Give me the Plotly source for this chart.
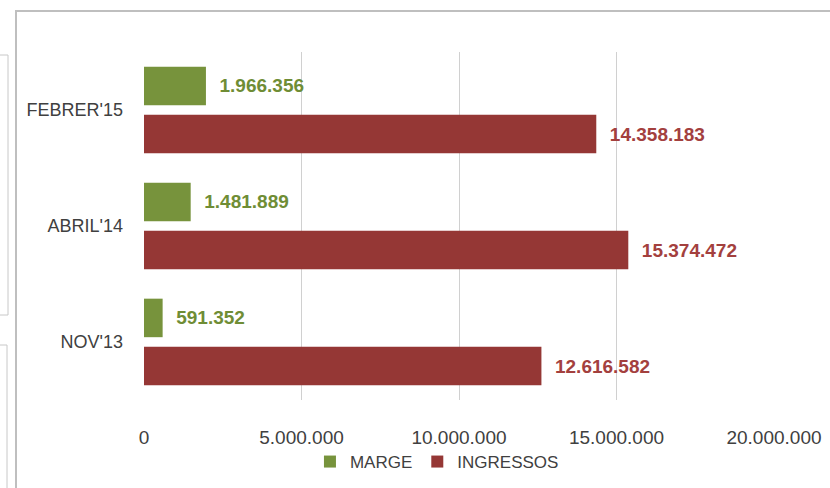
import plotly.graph_objects as go

categories = ["NOV'13", "ABRIL'14", "FEBRER'15"]
marge = [591352, 1481889, 1966356]
ingressos = [12616582, 15374472, 14358183]
x_ticks = [0, 5000000, 10000000, 15000000, 20000000]
x_tick_labels = ["0", "5.000.000", "10.000.000", "15.000.000", "20.000.000"]

GREEN = "#77933C"
RED = "#953735"
FONT = "Liberation Sans, Arial, sans-serif"

fig = go.Figure()
fig.add_trace(go.Bar(
    y=categories, x=ingressos, orientation="h", name="INGRESSOS",
    marker=dict(color=RED, line=dict(width=0)),
    texttemplate="  %{x:,.0f}", textposition="outside", cliponaxis=False,
    textfont=dict(family=FONT, size=19, color="#A3403E", weight="bold"),
    legendrank=2,
))
fig.add_trace(go.Bar(
    y=categories, x=marge, orientation="h", name="MARGE",
    marker=dict(color=GREEN, line=dict(width=0)),
    texttemplate="  %{x:,.0f}", textposition="outside", cliponaxis=False,
    textfont=dict(family=FONT, size=19, color="#6F8D35", weight="bold"),
    legendrank=1,
))

L, R, T, B = 144, 56, 52, 88
W, H = 830, 488
pw, ph = W - L - R, H - T - B

def px_x(px):
    return (px - L) / pw

def px_y(py):
    return (H - B - py) / ph

shapes = [
    # chart frame
    dict(type="rect", xref="paper", yref="paper",
         x0=px_x(16), x1=px_x(900), y0=px_y(11), y1=px_y(520),
         line=dict(color="#BFBFBF", width=2), fillcolor="rgba(0,0,0,0)", layer="below"),
    # left screenshot artefacts
    dict(type="path", xref="paper", yref="paper",
         path=f"M {px_x(-5)},{px_y(55)} L {px_x(8)},{px_y(55)} L {px_x(8)},{px_y(315)} L {px_x(-5)},{px_y(315)}",
         line=dict(color="#C8C8C8", width=1)),
    dict(type="path", xref="paper", yref="paper",
         path=f"M {px_x(-5)},{px_y(345)} L {px_x(7)},{px_y(345)} L {px_x(7)},{px_y(520)}",
         line=dict(color="#C8C8C8", width=1)),
]

fig.update_layout(
    width=W, height=H,
    margin=dict(l=L, r=R, t=T, b=B, pad=0, autoexpand=False),
    paper_bgcolor="white", plot_bgcolor="white",
    barmode="group", bargap=0.17, bargroupgap=0.2,
    separators=",.",
    font=dict(family=FONT, size=17, color="#404040"),
    showlegend=True,
    legend=dict(orientation="h", x=0.465, y=px_y(462), xanchor="center", yanchor="middle",
                font=dict(size=17, color="#404040"), itemwidth=30, traceorder="normal"),
    shapes=shapes,
    xaxis=dict(range=[0, 20000000], tickvals=x_ticks, ticktext=x_tick_labels,
               showgrid=True, gridcolor="#D0D0D0", gridwidth=1, automargin=False,
               zeroline=False, showline=False, ticks="", fixedrange=True,
               ticklabelstandoff=24, tickfont=dict(size=19, color="#404040")),
    yaxis=dict(categoryorder="array", categoryarray=categories, automargin=False,
               showgrid=False, zeroline=False, showline=False, ticks="", fixedrange=True,
               ticklabelstandoff=20, tickfont=dict(size=18, color="#404040")),
)

fig.write_html("out.html", config={"displayModeBar": False},
               post_script="document.body.style.margin='0';document.body.style.overflow='hidden';")
